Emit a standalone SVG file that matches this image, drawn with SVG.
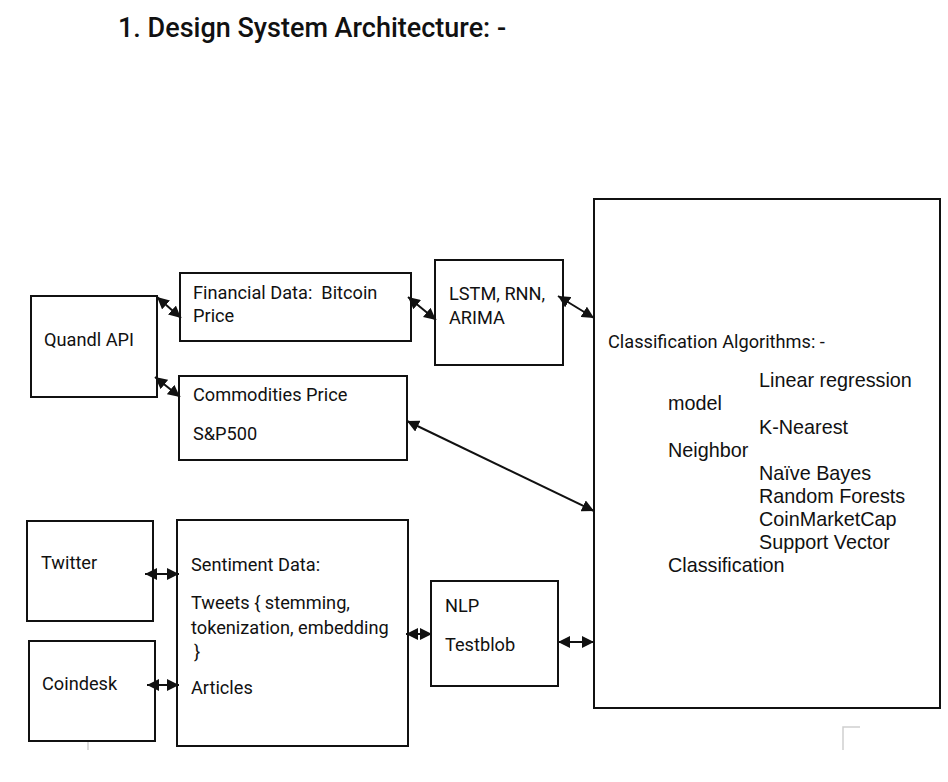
<svg xmlns="http://www.w3.org/2000/svg" width="948" height="782" viewBox="0 0 948 782">
  <style>
    .box { fill: #ffffff; stroke: #111111; stroke-width: 2; }
    .t { font-family: Roboto, "Liberation Sans", sans-serif; font-size: 18.2px; fill: #111111; }
    .c { font-family: "Liberation Sans", Arial, sans-serif; font-size: 19.8px; fill: #111111; }
    .title { font-family: Roboto, "Liberation Sans", sans-serif; font-size: 27px; font-weight: 500; fill: #111111; }
    .conn { stroke: #111111; stroke-width: 2; fill: none; marker-start: url(#ah); marker-end: url(#ah); }
  </style>
  <defs>
    <marker id="ah" viewBox="0 0 10 10" refX="10" refY="5" markerWidth="12" markerHeight="12" markerUnits="userSpaceOnUse" orient="auto-start-reverse">
      <path d="M0,0 L10,5 L0,10 z" fill="#111111"/>
    </marker>
  </defs>
  <rect width="948" height="782" fill="#ffffff"/>

  <text class="title" x="118" y="37">1. Design System Architecture: -</text>

  <g id="quandl">
    <rect class="box" x="31" y="296" width="126" height="101"/>
    <text class="t" x="44" y="346">Quandl API</text>
  </g>
  <g id="financial">
    <rect class="box" x="180" y="273" width="231" height="68"/>
    <text class="t" x="193" y="299">Financial Data:&#160; Bitcoin</text>
    <text class="t" x="193" y="322">Price</text>
  </g>
  <g id="lstm">
    <rect class="box" x="435" y="260" width="128" height="105"/>
    <text class="t" x="449" y="300">LSTM, RNN,</text>
    <text class="t" x="449" y="324">ARIMA</text>
  </g>
  <g id="commodities">
    <rect class="box" x="179" y="376" width="228" height="84"/>
    <text class="t" x="193" y="401">Commodities Price</text>
    <text class="t" x="193" y="440">S&amp;P500</text>
  </g>
  <g id="classification">
    <rect class="box" x="594" y="199" width="346" height="509"/>
    <text class="t" x="608" y="348" font-size="17.6">Classification Algorithms: -</text>
    <text class="c" x="759" y="387">Linear regression</text>
    <text class="c" x="668" y="410">model</text>
    <text class="c" x="759" y="434">K-Nearest</text>
    <text class="c" x="668" y="457">Neighbor</text>
    <text class="c" x="759" y="480">Naïve Bayes</text>
    <text class="c" x="759" y="503">Random Forests</text>
    <text class="c" x="759" y="526">CoinMarketCap</text>
    <text class="c" x="759" y="549">Support Vector</text>
    <text class="c" x="668" y="572">Classification</text>
  </g>
  <g id="twitter">
    <rect class="box" x="27" y="521" width="126" height="100"/>
    <text class="t" x="41" y="569">Twitter</text>
  </g>
  <g id="coindesk">
    <rect class="box" x="29" y="641" width="126" height="100"/>
    <text class="t" x="42" y="690">Coindesk</text>
  </g>
  <g id="sentiment">
    <rect class="box" x="177" y="520" width="231" height="226"/>
    <text class="t" x="191" y="571">Sentiment Data:</text>
    <text class="t" x="191" y="609">Tweets { stemming,</text>
    <text class="t" x="191" y="634">tokenization, embedding</text>
    <text class="t" x="194" y="658">}</text>
    <text class="t" x="191" y="694">Articles</text>
  </g>
  <g id="nlp">
    <rect class="box" x="431" y="581" width="127" height="105"/>
    <text class="t" x="445" y="612">NLP</text>
    <text class="t" x="445" y="651">Testblob</text>
  </g>

  <g id="connectors">
    <line class="conn" x1="157" y1="297" x2="181" y2="318"/>
    <line class="conn" x1="408" y1="297" x2="436" y2="320"/>
    <line class="conn" x1="558" y1="296" x2="594" y2="318"/>
    <line class="conn" x1="155" y1="377" x2="180" y2="397"/>
    <line class="conn" x1="407" y1="421" x2="594" y2="511"/>
    <line class="conn" x1="145" y1="574" x2="179" y2="574"/>
    <line class="conn" x1="147" y1="685" x2="179" y2="685"/>
    <line class="conn" x1="406" y1="634" x2="432" y2="634"/>
    <line class="conn" x1="558" y1="642" x2="594" y2="642"/>
  </g>

  <g id="marks" stroke="#cfcfcf" stroke-width="1.5" fill="none">
    <line x1="88" y1="742" x2="88" y2="750"/>
    <path d="M843,750 L843,727 L860,727"/>
  </g>
</svg>
